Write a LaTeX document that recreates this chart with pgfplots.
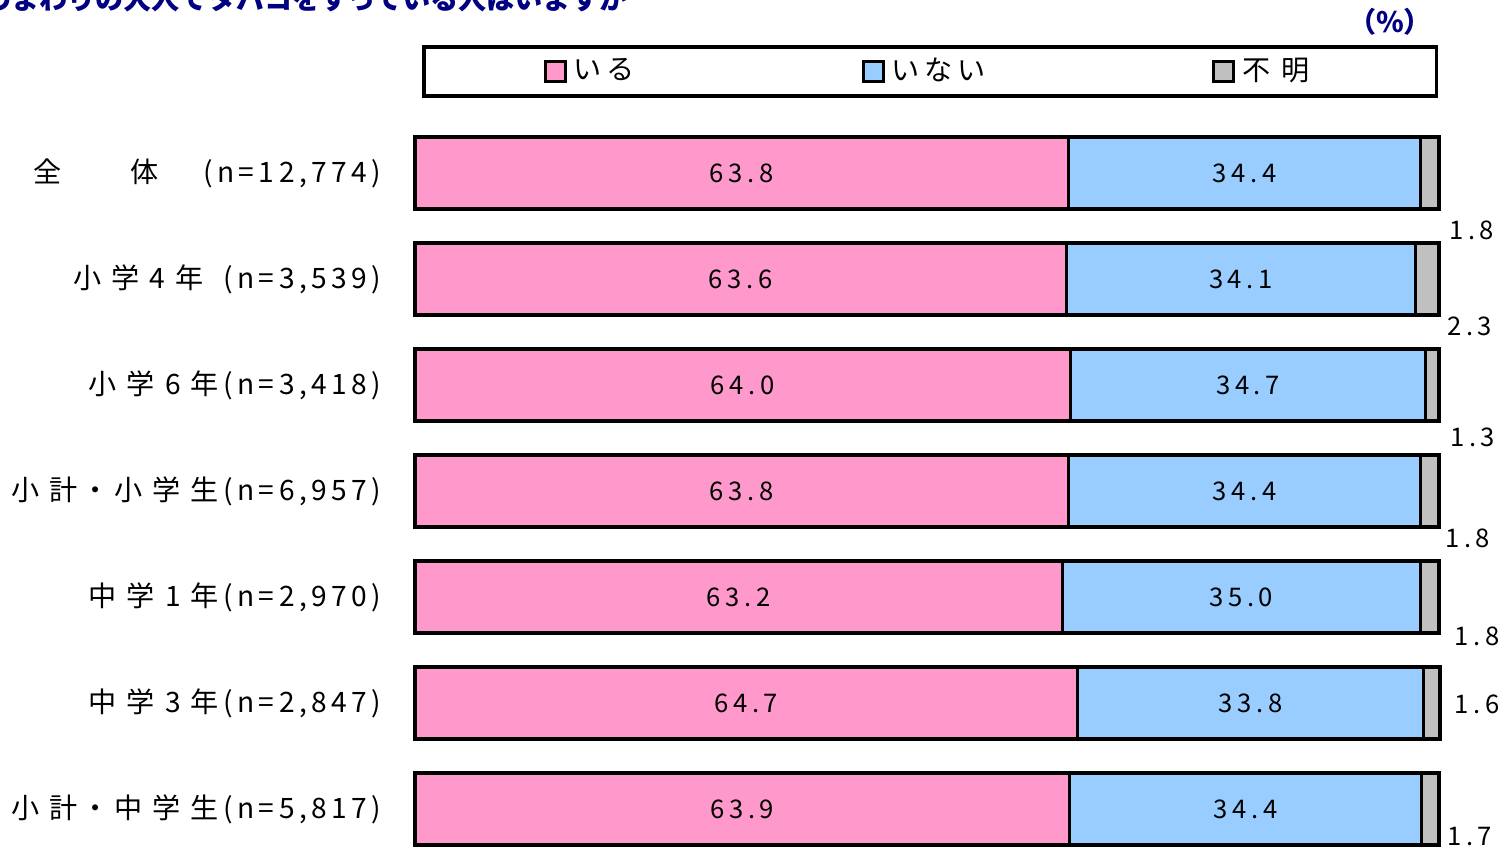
\documentclass[border=0pt]{standalone}
\usepackage{pgfplots}
\pgfplotsset{compat=1.18}
\usepackage{fontspec}
\setmainfont{Noto Sans CJK JP}
\newfontfamily\jpfont[LetterSpace=16]{Noto Sans CJK JP}
\newfontfamily\jpvfont[LetterSpace=18]{Noto Sans CJK JP}
\newfontfamily\jptfont{Noto Sans CJK JP}
\definecolor{cpink}{HTML}{FF99CC}
\definecolor{cblue}{HTML}{99CCFF}
\definecolor{cgray}{HTML}{C0C0C0}
\definecolor{cnavy}{HTML}{000080}
\newcommand{\jsp}{\hspace{0.1cm}}
\tikzset{vlab/.style={font=\jpvfont\fontsize{7.3pt}{8pt}\selectfont, inner sep=0pt}}
\begin{document}
\begin{tikzpicture}
\begin{axis}[
  at={(9.27cm,3.60cm)}, anchor=center,
  scale only axis, width=10.24cm, height=7.42cm,
  xbar stacked, bar width=0.68,
  xmin=0, xmax=100, ymin=-0.5, ymax=6.5, y dir=reverse,
  axis line style={draw=none}, xtick=\empty, ytick={0,1,2,3,4,5,6},
  major tick length=0pt,
  yticklabels={
    {全\hspace{0.68cm}体\hspace{0.45cm}(n=12,774)},
    {小\jsp 学\jsp 4\jsp 年\hspace{0.2cm}(n=3,539)},
    {小\jsp 学\jsp 6\jsp 年(n=3,418)},
    {小\jsp 計・小\jsp 学\jsp 生(n=6,957)},
    {中\jsp 学\jsp 1\jsp 年(n=2,970)},
    {中\jsp 学\jsp 3\jsp 年(n=2,847)},
    {小\jsp 計・中\jsp 学\jsp 生(n=5,817)}},
  yticklabel style={font=\jpfont\fontsize{8pt}{9pt}\selectfont, inner sep=0pt, xshift=-0.33cm},
  clip=false,
  legend columns=3,
  legend style={at={(0.503,1.0653)}, anchor=center, draw=black, line width=1.1pt,
    font=\jpfont\fontsize{8pt}{9pt}\selectfont, inner xsep=1.2cm, inner ysep=0.035cm,
    /tikz/every even column/.append style={column sep=2.2cm}},
  legend image code/.code={\draw[#1] (0cm,-0.1cm) rectangle (0.2cm,0.1cm);},
]
\addplot[fill=cpink, draw=black, line width=0.9pt] coordinates {(63.8,0) (63.6,1) (64.0,2) (63.8,3) (63.2,4) (64.7,5) (63.9,6)};
\addplot[fill=cblue, draw=black, line width=0.9pt] coordinates {(34.4,0) (34.1,1) (34.7,2) (34.4,3) (35.0,4) (33.8,5) (34.4,6)};
\addplot[fill=cgray, draw=black, line width=0.9pt] coordinates {(1.8,0) (2.3,1) (1.3,2) (1.8,3) (1.8,4) (1.6,5) (1.7,6)};
\legend{いる, いない, 不 明}
\coordinate (a0) at (axis cs:31.9,0);
\coordinate (a1) at (axis cs:31.8,1);
\coordinate (a2) at (axis cs:32.0,2);
\coordinate (a3) at (axis cs:31.9,3);
\coordinate (a4) at (axis cs:31.6,4);
\coordinate (a5) at (axis cs:32.35,5);
\coordinate (a6) at (axis cs:31.95,6);
\coordinate (b0) at (axis cs:81.0,0);
\coordinate (b1) at (axis cs:80.65,1);
\coordinate (b2) at (axis cs:81.35,2);
\coordinate (b3) at (axis cs:81.0,3);
\coordinate (b4) at (axis cs:80.7,4);
\coordinate (b5) at (axis cs:81.6,5);
\coordinate (b6) at (axis cs:81.1,6);
\coordinate (c0) at (axis cs:103.2,0.54);
\coordinate (c1) at (axis cs:103.0,1.45);
\coordinate (c2) at (axis cs:103.3,2.49);
\coordinate (c3) at (axis cs:102.8,3.45);
\coordinate (c4) at (axis cs:103.7,4.37);
\coordinate (c5) at (axis cs:103.7,5.01);
\coordinate (c6) at (axis cs:103.0,6.26);
\end{axis}
\node[vlab] at (a0) {63.8};
\node[vlab] at (a1) {63.6};
\node[vlab] at (a2) {64.0};
\node[vlab] at (a3) {63.8};
\node[vlab] at (a4) {63.2};
\node[vlab] at (a5) {64.7};
\node[vlab] at (a6) {63.9};
\node[vlab] at (b0) {34.4};
\node[vlab] at (b1) {34.1};
\node[vlab] at (b2) {34.7};
\node[vlab] at (b3) {34.4};
\node[vlab] at (b4) {35.0};
\node[vlab] at (b5) {33.8};
\node[vlab] at (b6) {34.4};
\node[vlab] at (c0) {1.8};
\node[vlab] at (c1) {2.3};
\node[vlab] at (c2) {1.3};
\node[vlab] at (c3) {1.8};
\node[vlab] at (c4) {1.8};
\node[vlab] at (c5) {1.6};
\node[vlab] at (c6) {1.7};
\node[anchor=base east, inner sep=0pt, text=cnavy, font=\jptfont\bfseries\fontsize{8pt}{9pt}\selectfont] at (6.28,8.41) {のまわりの大人でタバコをすっている人はいますか};
\node[inner sep=0pt, text=cnavy, font=\jptfont\bfseries\fontsize{8pt}{9pt}\selectfont] at (13.90,8.29) {（\%）};
\pgfresetboundingbox
\useasboundingbox (0,0) rectangle (15.03,8.51);
\end{tikzpicture}
\end{document}
